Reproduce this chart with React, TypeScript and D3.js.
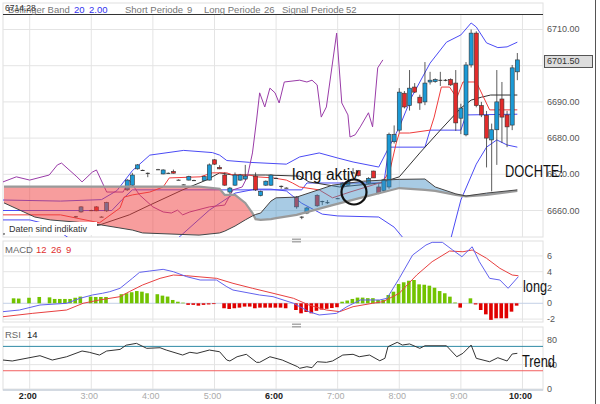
import * as d3 from "d3";

const hhmm = (s: string) => {
  const [h, m] = s.split(":").map(Number);
  return new Date(2021, 0, 4, h, m);
};

type P = [string, number];

const hourTicks = ["2:00", "3:00", "4:00", "5:00", "6:00", "7:00", "8:00", "9:00", "10:00"];
const boldHours = ["2:00", "6:00", "10:00"];
const priceTicks = [6710, 6690, 6680, 6670, 6660];
const priceGrid = [6710, 6700, 6690, 6680, 6670, 6660];
const lastPrice = 6701.5;
const topPrice = 6714.28;
const macdTicks = [6, 4, 2, 0, -2];
const rsiTicks = [80, 40, 0];
const rsiLevels = [70, 30];

// time, open, high, low, close
const candles: [string, number, number, number, number][] = [
  ["2:45", 6658.4, 6658.5, 6658.0, 6658.4],
  ["2:50", 6659.6, 6661.2, 6659.4, 6661.0],
  ["3:00", 6660.1, 6660.2, 6660.0, 6660.1],
  ["3:05", 6661.0, 6661.2, 6659.8, 6659.9],
  ["3:10", 6658.3, 6658.4, 6658.2, 6658.3],
  ["3:15", 6659.9, 6662.4, 6659.6, 6662.2],
  ["3:35", 6665.7, 6668.7, 6665.4, 6668.4],
  ["3:40", 6667.0, 6670.4, 6666.8, 6669.8],
  ["3:45", 6671.5, 6672.8, 6671.3, 6672.6],
  ["3:50", 6671.2, 6671.3, 6671.1, 6671.2],
  ["3:55", 6670.4, 6670.5, 6669.2, 6670.4],
  ["4:05", 6671.4, 6671.5, 6671.3, 6671.4],
  ["4:10", 6670.1, 6671.4, 6670.0, 6671.2],
  ["4:15", 6670.4, 6670.5, 6670.3, 6670.4],
  ["4:20", 6670.8, 6671.3, 6670.2, 6670.3],
  ["4:25", 6668.5, 6668.6, 6668.4, 6668.5],
  ["4:30", 6667.2, 6667.3, 6667.1, 6667.2],
  ["4:35", 6668.4, 6669.6, 6668.3, 6669.4],
  ["4:40", 6668.4, 6668.5, 6668.3, 6668.4],
  ["4:50", 6668.3, 6669.6, 6668.2, 6669.4],
  ["4:55", 6668.4, 6673.0, 6668.3, 6672.6],
  ["5:00", 6674.0, 6674.2, 6672.6, 6672.8],
  ["5:05", 6671.9, 6672.5, 6671.4, 6671.5],
  ["5:10", 6669.8, 6670.5, 6666.8, 6667.0],
  ["5:15", 6665.1, 6666.5, 6664.3, 6666.2],
  ["5:20", 6667.0, 6670.5, 6666.8, 6669.8],
  ["5:25", 6668.4, 6670.1, 6668.2, 6669.8],
  ["5:30", 6668.7, 6672.6, 6668.4, 6669.5],
  ["5:40", 6669.5, 6670.5, 6665.4, 6665.7],
  ["5:45", 6664.1, 6665.5, 6663.9, 6665.3],
  ["5:50", 6667.0, 6668.3, 6666.8, 6668.1],
  ["5:55", 6667.0, 6670.0, 6666.8, 6669.8],
  ["6:00", 6669.0, 6669.1, 6668.9, 6669.0],
  ["6:05", 6666.8, 6666.9, 6666.0, 6666.8],
  ["6:10", 6666.3, 6666.4, 6666.2, 6666.3],
  ["6:20", 6663.7, 6664.0, 6660.5, 6661.0],
  ["6:25", 6658.3, 6658.4, 6657.6, 6658.3],
  ["6:30", 6659.3, 6661.0, 6659.0, 6660.7],
  ["6:40", 6664.2, 6664.5, 6661.0, 6661.3],
  ["6:45", 6662.6, 6662.7, 6661.5, 6662.6],
  ["6:50", 6662.3, 6662.9, 6661.8, 6662.3],
  ["7:00", 6663.4, 6663.5, 6663.3, 6663.4],
  ["7:05", 6666.5, 6667.8, 6666.3, 6667.6],
  ["7:10", 6667.0, 6668.5, 6666.8, 6668.0],
  ["7:15", 6670.5, 6671.7, 6670.3, 6670.5],
  ["7:20", 6671.0, 6671.2, 6669.4, 6669.6],
  ["7:30", 6667.6, 6669.2, 6667.4, 6668.9],
  ["7:35", 6670.9, 6671.0, 6669.0, 6669.0],
  ["7:40", 6666.5, 6667.3, 6664.5, 6664.8],
  ["7:45", 6665.5, 6668.8, 6665.2, 6668.5],
  ["7:50", 6666.5, 6681.5, 6666.0, 6681.0],
  ["7:55", 6679.0, 6683.5, 6678.5, 6681.0],
  ["8:00", 6682.2, 6693.8, 6681.5, 6692.7],
  ["8:05", 6692.4, 6693.0, 6688.2, 6688.6],
  ["8:10", 6689.0, 6698.8, 6687.6, 6693.8],
  ["8:15", 6694.1, 6695.2, 6692.5, 6692.7],
  ["8:20", 6691.3, 6692.0, 6687.8, 6689.7],
  ["8:25", 6690.0, 6701.0, 6689.1, 6695.2],
  ["8:30", 6695.5, 6698.3, 6694.8, 6696.0],
  ["8:35", 6695.6, 6696.5, 6695.3, 6696.2],
  ["8:40", 6696.0, 6698.3, 6694.4, 6696.1],
  ["8:45", 6696.0, 6696.3, 6695.7, 6696.1],
  ["8:50", 6696.2, 6696.5, 6694.4, 6694.7],
  ["8:55", 6695.2, 6698.8, 6682.0, 6684.2],
  ["9:00", 6685.5, 6689.5, 6681.1, 6688.3],
  ["9:05", 6680.9, 6701.0, 6680.5, 6700.2],
  ["9:10", 6700.2, 6710.0, 6699.5, 6709.0],
  ["9:15", 6709.0, 6709.5, 6688.5, 6689.0],
  ["9:20", 6689.0, 6690.0, 6685.8, 6686.4],
  ["9:25", 6686.3, 6687.5, 6671.9, 6680.0],
  ["9:30", 6679.5, 6684.0, 6665.3, 6682.3],
  ["9:35", 6682.3, 6698.8, 6672.6, 6690.0],
  ["9:40", 6690.8, 6695.5, 6678.7, 6685.8],
  ["9:45", 6686.4, 6687.5, 6677.5, 6683.1],
  ["9:50", 6683.6, 6700.2, 6682.2, 6699.4],
  ["9:55", 6698.3, 6703.5, 6696.0, 6701.6],
];

const bbUpper: P[] = [
  ["1:34", 6662.9], ["2:30", 6662.6], ["3:10", 6663.0], ["3:25", 6665.5], ["3:40", 6671.0],
  ["3:57", 6675.3], ["4:30", 6676.6], ["4:58", 6676.0], ["5:05", 6675.3], ["5:12", 6673.8],
  ["5:34", 6673.3], ["6:10", 6672.8], ["6:23", 6674.8], ["6:42", 6675.9], ["7:00", 6674.5],
  ["7:15", 6673.4], ["7:40", 6672.0], ["7:50", 6677.5], ["8:00", 6683.0], ["8:12", 6691.3],
  ["8:30", 6700.7], ["8:46", 6706.5], ["9:00", 6708.5], ["9:10", 6711.8], ["9:15", 6710.7],
  ["9:25", 6706.3], ["9:36", 6705.0], ["9:45", 6705.2], ["9:55", 6706.5],
];

const bbLower: P[] = [
  ["1:34", 6657.4], ["2:00", 6657.4], ["2:20", 6656.0], ["2:40", 6652.0], ["4:25", 6652.5],
  ["4:55", 6660.1], ["5:20", 6664.8], ["5:40", 6665.9], ["5:55", 6665.9], ["6:10", 6665.4],
  ["6:25", 6662.0], ["6:45", 6659.0], ["7:00", 6658.5], ["7:40", 6658.2], ["7:55", 6655.4],
  ["8:05", 6652.0], ["8:50", 6652.0], ["9:00", 6662.9], ["9:15", 6672.8], ["9:25", 6677.5],
  ["9:35", 6679.5], ["9:45", 6678.1], ["9:55", 6677.5],
];

const bbMiddle: P[] = [
  ["1:34", 6653.5], ["2:30", 6654.2], ["3:08", 6656.0], ["3:37", 6658.8], ["3:57", 6661.5],
  ["4:29", 6665.7], ["4:52", 6668.4], ["5:05", 6670.4], ["5:18", 6669.8], ["5:50", 6669.8],
  ["6:23", 6669.5], ["6:32", 6667.9], ["7:02", 6666.5], ["7:41", 6667.6], ["8:00", 6669.3],
  ["8:20", 6675.9], ["8:40", 6682.2], ["9:00", 6688.3], ["9:10", 6690.5], ["9:20", 6691.3],
  ["9:29", 6691.9], ["9:55", 6691.9],
];

const tenkan: P[] = [
  ["1:34", 6658.8], ["2:30", 6658.8], ["3:08", 6656.6], ["3:28", 6660.7], ["3:32", 6663.7],
  ["3:40", 6664.3], ["3:57", 6665.1], ["4:10", 6666.5], ["4:16", 6669.0], ["4:46", 6669.3],
  ["4:58", 6670.4], ["5:12", 6670.4], ["5:18", 6669.8], ["5:34", 6669.8], ["5:41", 6669.3],
  ["5:57", 6669.0], ["6:10", 6668.4], ["6:16", 6667.6], ["6:23", 6666.5], ["6:42", 6665.7],
  ["6:55", 6663.5], ["7:12", 6665.1], ["7:28", 6666.5], ["7:44", 6667.9], ["7:51", 6671.2],
  ["7:57", 6678.6], ["8:00", 6681.4], ["8:10", 6681.4], ["8:30", 6682.2], ["8:34", 6685.8],
  ["8:41", 6694.1], ["8:49", 6694.1], ["8:56", 6691.1], ["9:02", 6695.5], ["9:15", 6695.5],
  ["9:28", 6687.8], ["9:55", 6687.8],
];

const kijun: P[] = [
  ["1:34", 6660.0], ["3:20", 6660.0], ["3:30", 6663.0], ["3:40", 6665.7], ["6:25", 6665.7],
  ["6:30", 6667.6], ["7:45", 6667.6], ["7:50", 6677.5], ["8:25", 6677.5], ["8:30", 6682.2],
  ["9:00", 6682.2], ["9:05", 6686.4], ["9:55", 6686.6],
];

const chikou: P[] = [
  ["1:34", 6667.9], ["1:47", 6669.3], ["2:00", 6668.4], ["2:19", 6669.8], ["2:27", 6672.6],
  ["2:31", 6673.1], ["2:46", 6669.3], ["2:51", 6667.9], ["3:01", 6670.6], ["3:05", 6671.2],
  ["3:15", 6665.1], ["3:31", 6665.1], ["3:37", 6668.4], ["3:47", 6664.3], ["4:00", 6661.0],
  ["4:10", 6659.6], ["4:18", 6659.3], ["4:24", 6660.1], ["4:29", 6658.8], ["4:36", 6659.6],
  ["4:55", 6661.0], ["5:10", 6661.5], ["5:18", 6665.7], ["5:27", 6666.5], ["5:32", 6669.3],
  ["5:37", 6675.9], ["5:41", 6685.0], ["5:44", 6692.5], ["5:49", 6688.6], ["5:54", 6693.8],
  ["5:59", 6692.5], ["6:03", 6689.7], ["6:08", 6695.5], ["6:23", 6696.0], ["6:30", 6695.5],
  ["6:35", 6696.0], ["6:40", 6694.7], ["6:44", 6685.8], ["6:49", 6688.6], ["6:59", 6709.0],
  ["7:04", 6689.7], ["7:10", 6686.4], ["7:12", 6680.3], ["7:17", 6680.9], ["7:22", 6683.1],
  ["7:30", 6687.0], ["7:34", 6683.1], ["7:39", 6699.4], ["7:44", 6701.6],
];

const cloudTimes = [
  "1:35", "2:05", "2:20", "2:45", "3:10", "3:40", "3:50", "4:45", "5:05", "5:10", "5:20", "5:30",
  "5:37", "5:40", "5:45", "5:55", "6:00", "6:20", "6:55", "7:25", "7:45", "8:00", "8:25", "8:35",
  "8:55", "9:05", "9:25", "9:55",
];
const spanA = [
  6662.1, 6658.2, 6657.4, 6656.8, 6656.0, 6654.6, 6653.8, 6653.2, 6653.8, 6654.3, 6655.7, 6657.4,
  6658.5, 6658.9, 6659.3, 6662.6, 6663.5, 6663.7, 6667.0, 6668.1, 6668.4, 6668.6, 6668.7, 6666.5,
  6664.6, 6664.0, 6664.8, 6665.7,
];
const spanB = [
  6666.6, 6666.6, 6666.6, 6666.6, 6666.6, 6666.6, 6666.6, 6666.6, 6666.0, 6664.3, 6664.3, 6662.1,
  6659.3, 6657.6, 6657.4, 6657.6, 6657.9, 6658.8, 6661.5, 6663.7, 6665.1, 6666.2, 6665.7, 6665.4,
  6664.3, 6663.9, 6664.3, 6665.4,
];

const macdLine: P[] = [
  ["1:34", -1.06], ["1:50", -0.85], ["2:10", -0.22], ["2:36", 0], ["2:49", 0.63], ["3:01", 1.05],
  ["3:11", 1.27], ["3:18", 1.47], ["3:28", 1.9], ["3:40", 3.16], ["3:47", 3.92], ["3:57", 4.09],
  ["4:10", 4.3], ["4:20", 4.0], ["4:33", 3.37], ["4:46", 2.95], ["5:02", 2.95], ["5:12", 2.1],
  ["5:18", 1.68], ["5:44", 1.05], ["5:57", 0.84], ["6:17", 0], ["6:23", -0.43], ["6:32", -1.06],
  ["6:42", -1.48], ["6:59", -1.27], ["7:09", -0.43], ["7:22", 0.42], ["7:41", 0.42], ["7:48", 0.63],
  ["8:00", 3.16], ["8:13", 6.11], ["8:26", 7.38], ["8:32", 7.72], ["8:42", 7.72], ["8:52", 6.75],
  ["9:01", 5.9], ["9:11", 7.16], ["9:18", 5.27], ["9:28", 3.16], ["9:38", 2.95], ["9:46", 1.9],
  ["9:56", 3.37],
];

const macdSignal: P[] = [
  ["1:34", -1.7], ["2:03", -1.27], ["2:36", -0.85], ["2:52", 0], ["3:08", 0.42], ["3:28", 0.84],
  ["3:37", 1.47], ["3:50", 2.32], ["4:07", 3.16], ["4:20", 3.58], ["4:33", 3.49], ["5:02", 3.16],
  ["5:18", 2.53], ["5:37", 1.9], ["5:57", 1.27], ["6:17", 0.63], ["6:32", -0.22], ["6:49", -0.85],
  ["7:02", -1.06], ["7:15", -0.43], ["7:34", 0], ["7:44", 0.2], ["8:00", 1.27], ["8:17", 3.58],
  ["8:32", 5.27], ["8:49", 6.62], ["9:02", 6.53], ["9:11", 6.75], ["9:25", 5.7], ["9:38", 4.43],
  ["9:50", 3.58], ["9:56", 3.49],
];

const macdHist: P[] = [
  ["1:45", 0.63], ["1:50", 0.6], ["2:00", 0.7], ["2:10", 0.8], ["2:20", 0.75], ["2:25", 0.55],
  ["2:30", 0.55], ["2:35", 0.55], ["2:40", 0.55], ["2:45", 0.7], ["2:50", 0.85], ["3:00", 0.85],
  ["3:05", 0.8], ["3:10", 0.8], ["3:15", 0.8], ["3:30", 1.15], ["3:35", 1.27], ["3:40", 1.4],
  ["3:45", 1.55], ["3:50", 1.47], ["3:55", 1.27], ["4:05", 1.15], ["4:10", 0.97], ["4:15", 0.85],
  ["4:20", 0.42], ["4:25", 0.2], ["4:30", 0.08], ["4:35", -0.2], ["4:40", -0.2], ["4:45", -0.3],
  ["4:50", -0.2], ["4:55", -0.15], ["5:00", -0.1], ["5:10", -0.63], ["5:15", -0.72], ["5:20", -0.63],
  ["5:25", -0.55], ["5:30", -0.42], ["5:35", -0.42], ["5:40", -0.63], ["5:45", -0.55], ["5:50", -0.55],
  ["5:55", -0.55], ["6:00", -0.55], ["6:05", -0.55], ["6:10", -0.63], ["6:20", -0.85], ["6:25", -1.27],
  ["6:30", -1.1], ["6:35", -1.27], ["6:40", -0.95], ["6:45", -0.8], ["6:50", -0.7], ["6:55", -0.6],
  ["7:00", -0.5], ["7:05", 0.2], ["7:10", 0.35], ["7:15", 0.55], ["7:20", 0.72], ["7:25", 0.72],
  ["7:30", 0.65], ["7:35", 0.65], ["7:40", 0.42], ["7:45", 0.42], ["7:50", 1.05], ["7:55", 1.47],
  ["8:00", 2.44], ["8:05", 2.66], ["8:10", 2.86], ["8:15", 2.95], ["8:20", 2.4], ["8:25", 2.35],
  ["8:30", 2.23], ["8:35", 1.97], ["8:40", 1.55], ["8:45", 1.27], ["8:50", 0.84], ["8:55", 0.1],
  ["9:00", -0.55], ["9:10", 0.63], ["9:15", -0.15], ["9:20", -0.85], ["9:25", -1.4], ["9:30", -2.1],
  ["9:35", -1.9], ["9:40", -1.9], ["9:45", -1.9], ["9:50", -1.06], ["9:55", -0.3],
];

const rsi: P[] = [
  ["1:34", 47.6], ["1:43", 46], ["2:10", 54.7], ["2:22", 47.6], ["2:36", 53], ["2:51", 62.4],
  ["2:58", 60.3], ["3:08", 55.8], ["3:15", 62.4], ["3:28", 65], ["3:34", 72], ["3:44", 75],
  ["3:54", 66.8], ["4:07", 67.8], ["4:13", 64], ["4:29", 55.8], ["4:36", 60.3], ["4:43", 58.6],
  ["4:55", 64], ["5:05", 61.2], ["5:12", 47.6], ["5:15", 46], ["5:22", 53], ["5:31", 57],
  ["5:41", 43.8], ["5:44", 43.8], ["5:54", 53], ["6:06", 47.6], ["6:21", 36.6], ["6:23", 34],
  ["6:30", 36.6], ["6:35", 35], ["6:40", 44.8], ["6:49", 43.8], ["6:55", 46], ["7:05", 55.8],
  ["7:15", 57], ["7:21", 53], ["7:31", 55.8], ["7:41", 46.4], ["7:46", 50.4], ["7:49", 69.5],
  ["7:58", 76.7], ["8:03", 72.2], ["8:10", 74], ["8:20", 66.8], ["8:25", 71], ["8:46", 71],
  ["8:56", 53], ["9:02", 58.6], ["9:10", 72.2], ["9:15", 50.4], ["9:28", 44.8], ["9:36", 51.4],
  ["9:45", 46], ["9:50", 57.5], ["9:55", 58.6],
];

const FONT = "'Liberation Sans', Arial, sans-serif";

export default function App() {
  const L = 3, R = 543;
  const mainTop = 14, mainBot = 237;
  const macdTop = 241, macdBot = 322;
  const rsiTop = 327, rsiBot = 390;

  const x = d3.scaleTime().domain([hhmm("1:34"), hhmm("10:20")]).range([L, R]);
  const X = (s: string) => x(hhmm(s));
  const y = d3.scaleLinear().domain([6652.68, topPrice]).range([mainBot, mainTop]);
  const yM = d3.scaleLinear().domain([-2.37, 7.89]).range([macdBot, macdTop]);
  const yR = d3.scaleLinear().domain([0, 80]).range([389, 340.3]);

  const priceLine = d3.line<P>().x((d) => X(d[0])).y((d) => y(d[1]));
  const macdPath = d3.line<P>().x((d) => X(d[0])).y((d) => yM(d[1]));
  const rsiPath = d3.line<P>().x((d) => X(d[0])).y((d) => yR(d[1]));

  const cloud = cloudTimes.map((s, i) => ({ x: X(s), a: y(spanA[i]), b: y(spanB[i]) }));
  type C = (typeof cloud)[number];
  const cloudArea = d3.area<C>().x((d) => d.x).y0((d) => d.a).y1((d) => d.b)(cloud) ?? "";
  const aboveA = d3.area<C>().x((d) => d.x).y0(mainTop).y1((d) => d.a)(cloud) ?? "";
  const belowA = d3.area<C>().x((d) => d.x).y0((d) => d.a).y1(mainBot)(cloud) ?? "";
  const lineA = d3.line<C>().x((d) => d.x).y((d) => d.a)(cloud) ?? "";
  const lineB = d3.line<C>().x((d) => d.x).y((d) => d.b)(cloud) ?? "";

  const grid = "#e4e4e4";
  const axisText = "#555";

  return (
    <svg
      width={600}
      height={404}
      style={{ position: "absolute", left: 0, top: 0, background: "#fff", fontFamily: FONT }}
    >
      <defs>
        <clipPath id="mainClip">
          <rect x={L} y={mainTop} width={R - L} height={mainBot - mainTop} />
        </clipPath>
        <clipPath id="aboveA">
          <path d={aboveA} />
        </clipPath>
        <clipPath id="belowA">
          <path d={belowA} />
        </clipPath>
      </defs>

      <rect x={0} y={0} width={600} height={404} fill="#fff" />

      {/* panel frames */}
      <rect x={L} y={3} width={R - L} height={mainBot - 3} fill="none" stroke="#e0e0e0" />
      <rect x={L} y={macdTop} width={R - L} height={macdBot - macdTop} fill="none" stroke="#e0e0e0" />
      <rect x={L} y={rsiTop} width={R - L} height={rsiBot - rsiTop} fill="none" stroke="#e0e0e0" />
      <line x1={595.5} x2={595.5} y1={0} y2={404} stroke="#555" />

      {/* vertical hour grid */}
      {hourTicks.map((h) => (
        <g key={h}>
          <line x1={X(h)} x2={X(h)} y1={mainTop} y2={mainBot} stroke={grid} />
          <line x1={X(h)} x2={X(h)} y1={macdTop} y2={macdBot} stroke={grid} />
          <line x1={X(h)} x2={X(h)} y1={rsiTop} y2={rsiBot} stroke={grid} />
          <text
            x={X(h) - 2}
            y={399}
            textAnchor="middle"
            fontSize={9}
            fontWeight={boldHours.includes(h) ? "bold" : "normal"}
            fill={boldHours.includes(h) ? "#222" : "#aaa"}
          >
            {h}
          </text>
        </g>
      ))}

      {/* horizontal price grid */}
      {priceGrid.map((p) => (
        <line key={p} x1={L} x2={R} y1={y(p)} y2={y(p)} stroke={grid} />
      ))}
      {priceTicks.map((p) => (
        <text key={p} x={547} y={y(p) + 3} fontSize={9} fill={axisText}>
          {p.toFixed(2)}
        </text>
      ))}

      {/* main indicator lines and candles */}
      <g clipPath="url(#mainClip)">
        <path d={priceLine(bbUpper) ?? ""} fill="none" stroke="#4b4bf5" strokeWidth={1} />
        <path d={priceLine(bbLower) ?? ""} fill="none" stroke="#4b4bf5" strokeWidth={1} />
        <path d={priceLine(kijun) ?? ""} fill="none" stroke="#4b4bf5" strokeWidth={1} />
        <path d={priceLine(bbMiddle) ?? ""} fill="none" stroke="#333" strokeWidth={1} />
        <path d={priceLine(tenkan) ?? ""} fill="none" stroke="#f03c3c" strokeWidth={1} />
        <path d={priceLine(chikou) ?? ""} fill="none" stroke="#9a3ca8" strokeWidth={1} />

        {candles.map(([t, o, h, l, c]) => {
          const cx = X(t);
          const up = c >= o;
          const top = y(Math.max(o, c));
          const bh = Math.max(1, y(Math.min(o, c)) - top);
          return (
            <g key={t}>
              <line x1={cx} x2={cx} y1={y(h)} y2={y(l)} stroke="#333" strokeWidth={0.8} />
              <rect
                x={cx - 2}
                y={top}
                width={4}
                height={bh}
                fill={bh <= 1 ? "#333" : up ? "#1b9ad6" : "#e32b2b"}
                stroke="#333"
                strokeWidth={bh <= 1 ? 0 : 0.6}
              />
            </g>
          );
        })}

        {/* ichimoku cloud */}
        <path d={cloudArea} fill="#f03c3c" fillOpacity={0.5} clipPath="url(#aboveA)" />
        <path d={cloudArea} fill="#3d8cc4" fillOpacity={0.45} clipPath="url(#belowA)" />
        <path d={lineB} fill="none" stroke="#9a9a9a" strokeWidth={2.2} />
        <path d={lineA} fill="none" stroke="#444" strokeWidth={1} />
      </g>

      {/* header */}
      <line x1={L} x2={R} y1={14.5} y2={14.5} stroke="#333" />
      <text y={13} fontSize={9.5} fill="#777">
        <tspan x={8}>Bollinger Band</tspan>
        <tspan x={74} fill="#3333ee">20</tspan>
        <tspan x={89} fill="#3333ee">2.00</tspan>
        <tspan x={125}>Short Periode</tspan>
        <tspan x={187}>9</tspan>
        <tspan x={204}>Long Periode</tspan>
        <tspan x={264}>26</tspan>
        <tspan x={282}>Signal Periode</tspan>
        <tspan x={346}>52</tspan>
      </text>
      <text x={5} y={11} fontSize={8.5} fill="#333">
        {topPrice.toFixed(2)}
      </text>

      {/* last price box */}
      <rect x={544.5} y={55.5} width={48} height={12} fill="#ddd" stroke="#555" />
      <text x={547} y={y(lastPrice) + 3.5} fontSize={9} fill="#333">
        {lastPrice.toFixed(2)}
      </text>

      {/* disclaimer */}
      <rect x={5} y={222} width={92} height={13} fill="#fff" />
      <text x={9} y={232} fontSize={9} fill="#333">
        Daten sind indikativ
      </text>

      {/* panel handles */}
      <rect x={292} y={238.5} width={9} height={1.5} fill="#aaa" />
      <rect x={292} y={241} width={9} height={1.5} fill="#aaa" />
      <rect x={292} y={323.5} width={9} height={1.5} fill="#aaa" />
      <rect x={292} y={326} width={9} height={1.5} fill="#aaa" />

      {/* MACD panel */}
      {macdTicks.map((v) => (
        <g key={v}>
          <line x1={L} x2={R} y1={yM(v)} y2={yM(v)} stroke={v === 0 ? "#c3d0e6" : grid} />
          <text x={547} y={yM(v) + 3} fontSize={9} fill={axisText}>
            {v}
          </text>
        </g>
      ))}
      {macdHist.map(([t, v]) => (
        <rect
          key={t}
          x={X(t) - 2.5}
          y={v >= 0 ? yM(v) : yM(0)}
          width={3.6}
          height={Math.abs(yM(v) - yM(0))}
          fill={v >= 0 ? "#72c300" : "#e00000"}
        />
      ))}
      <path d={macdPath(macdSignal) ?? ""} fill="none" stroke="#e84040" strokeWidth={1} />
      <path d={macdPath(macdLine) ?? ""} fill="none" stroke="#6262ee" strokeWidth={1} />
      <text y={253} fontSize={9.5} fill="#666">
        <tspan x={5}>MACD</tspan>
        <tspan x={36} fill="#e03030">12</tspan>
        <tspan x={51} fill="#e03030">26</tspan>
        <tspan x={66} fill="#e03030">9</tspan>
      </text>

      {/* RSI panel */}
      {rsiTicks.map((v) => (
        <g key={v}>
          <line x1={L} x2={R} y1={yR(v)} y2={yR(v)} stroke={grid} />
          <text x={547} y={yR(v) + 3} fontSize={9} fill={axisText}>
            {v}
          </text>
        </g>
      ))}
      <line x1={L} x2={R} y1={yR(rsiLevels[0])} y2={yR(rsiLevels[0])} stroke="#2f8aa6" strokeWidth={1} />
      <line x1={L} x2={R} y1={yR(rsiLevels[1])} y2={yR(rsiLevels[1])} stroke="#f26060" strokeWidth={1} />
      <path d={rsiPath(rsi) ?? ""} fill="none" stroke="#333" strokeWidth={1} />
      <text y={338} fontSize={9.5} fill="#666">
        <tspan x={5}>RSI</tspan>
        <tspan x={27} fill="#222">14</tspan>
      </text>
      <line x1={L} x2={R} y1={rsiBot} y2={rsiBot} stroke="#b9c6d6" />

      {/* drawn annotations */}
      <text x={292} y={180} fontSize={16} fill="#111" textLength={66} lengthAdjust="spacingAndGlyphs">
        long aktiv
      </text>
      <circle cx={354} cy={192} r={12.5} fill="none" stroke="#111" strokeWidth={2.2} />
      <text x={505} y={177} fontSize={17} fill="#111" textLength={58} lengthAdjust="spacingAndGlyphs">
        DOCHTE!
      </text>
      <text x={523} y={292} fontSize={17} fill="#111" textLength={24} lengthAdjust="spacingAndGlyphs">
        long
      </text>
      <text x={522} y={367} fontSize={17} fill="#111" textLength={33} lengthAdjust="spacingAndGlyphs">
        Trend
      </text>
    </svg>
  );
}
